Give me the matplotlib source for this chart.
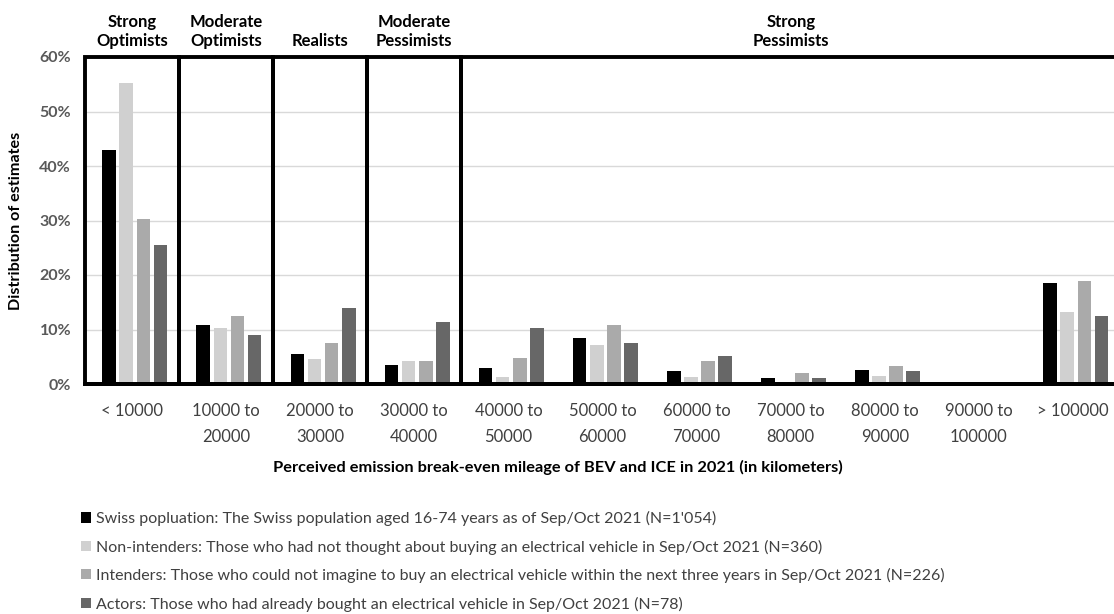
import numpy as np
import matplotlib
matplotlib.use("Agg")
import matplotlib.pyplot as plt
from matplotlib.patches import Rectangle

plt.rcParams['font.family'] = ['Lato', 'DejaVu Sans']

categories = ["< 10000", "10000 to\n20000", "20000 to\n30000", "30000 to\n40000",
              "40000 to\n50000", "50000 to\n60000", "60000 to\n70000", "70000 to\n80000",
              "80000 to\n90000", "90000 to\n100000", "> 100000"]

swiss = [43.0, 10.8, 5.5, 3.4, 2.9, 8.4, 2.4, 1.1, 2.5, 0.0, 18.6]
non_intenders = [55.3, 10.2, 4.5, 4.3, 1.3, 7.1, 1.3, 0.2, 1.5, 0.2, 13.2]
intenders = [30.3, 12.4, 7.5, 4.3, 4.8, 10.8, 4.2, 2.1, 3.3, 0.0, 18.9]
actors = [25.5, 8.9, 13.9, 11.3, 10.2, 7.5, 5.1, 1.1, 2.4, 0.0, 12.5]

series_labels = [
    "Swiss popluation: The Swiss population aged 16-74 years as of Sep/Oct 2021 (N=1'054)",
    "Non-intenders: Those who had not thought about buying an electrical vehicle in Sep/Oct 2021 (N=360)",
    "Intenders: Those who could not imagine to buy an electrical vehicle within the next three years in Sep/Oct 2021 (N=226)",
    "Actors: Those who had already bought an electrical vehicle in Sep/Oct 2021 (N=78)",
]
colors = ["#000000", "#d0d0d0", "#aaaaaa", "#676767"]

# group boxes: (first category, last category, header)
groups = [(0, 0, "Strong\nOptimists"), (1, 1, "Moderate\nOptimists"), (2, 2, "Realists"),
          (3, 3, "Moderate\nPessimists"), (4, 10, "Strong\nPessimists")]

fig = plt.figure(figsize=(11.14, 6.14), dpi=100)
ax = fig.add_axes([85 / 1114, 1 - 384 / 614, 1035 / 1114, 327 / 614])

x = np.arange(len(categories))
width = 0.145
step = 0.182
handles = []
for i, (vals, c) in enumerate(zip([swiss, non_intenders, intenders, actors], colors)):
    b = ax.bar(x + (i - 1.5) * step + 0.03, vals, width, color=c, zorder=3)
    handles.append(b)

ax.set_xlim(-0.5, len(categories) - 0.5)
ax.set_ylim(0, 60)
ax.set_yticks(np.arange(0, 61, 10))
ax.set_yticklabels(["{}%".format(v) for v in range(0, 61, 10)])
ax.set_xticks(x)
ax.set_xticklabels(categories, linespacing=1.75)
ax.tick_params(axis='both', length=0)
ax.tick_params(axis='y', pad=10, labelsize=11.5, labelcolor="#595959")
ax.tick_params(axis='x', pad=14, labelsize=12, labelcolor="#404040")
for t in ax.get_yticklabels():
    t.set_fontweight("bold")
ax.grid(axis='y', color="#d9d9d9", lw=1, zorder=0)
for s in ax.spines.values():
    s.set_visible(False)
ax.axhline(0, color="black", lw=2.8, zorder=4, clip_on=False)

for a, b, name in groups:
    ax.add_patch(Rectangle((a - 0.5, 0), b - a + 1, 60, fill=False, ec="black", lw=2.8,
                           zorder=5, clip_on=False))
    ax.text((a + b) / 2, 61.5, name, ha="center", va="bottom", fontsize=12,
            fontweight="bold", linespacing=1.2)

ax.set_ylabel("Distribution of estimates", fontsize=11.6, fontweight="bold")
ax.yaxis.set_label_coords(-0.06, 0.5)
fig.text(558 / 1114, 1 - 467 / 614, "Perceived emission break-even mileage of BEV and ICE in 2021 (in kilometers)",
         ha="center", va="center", fontsize=11.8, fontweight="bold")

fig.legend(handles, series_labels, loc="upper left", bbox_to_anchor=(81 / 1114, 1 - 511 / 614),
           frameon=False, fontsize=11.5, handlelength=0.6, handleheight=0.6, handletextpad=0.37,
           labelspacing=0.84, labelcolor="#404040", borderaxespad=0, borderpad=0)

fig.savefig("out.png", dpi=100)
